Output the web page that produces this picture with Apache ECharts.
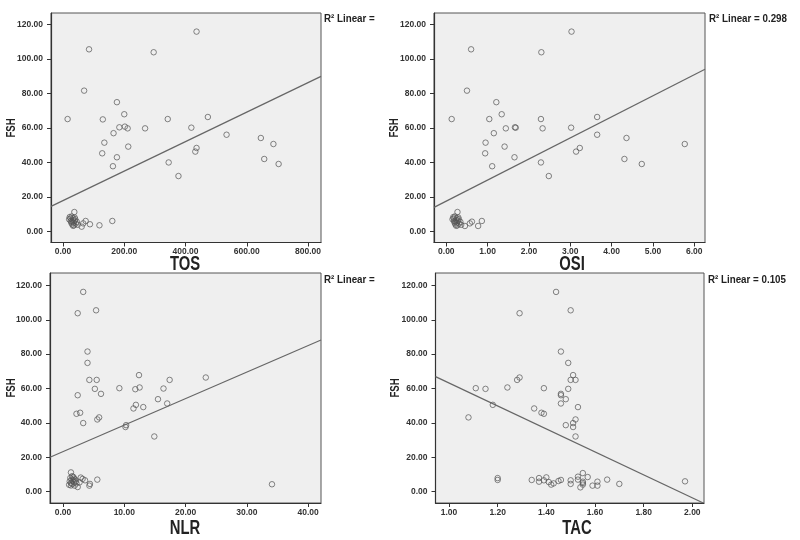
<!DOCTYPE html>
<html>
<head>
<meta charset="utf-8">
<script src="https://cdn.jsdelivr.net/npm/echarts@6/dist/echarts.min.js"></script>
<style>html,body{margin:0;padding:0;background:#fff}#c{width:800px;height:540px}</style>
</head>
<body>
<div id="c"></div>
<script>
// ---- data ----
var fshTicks = [0, 20, 40, 60, 80, 100, 120];
var tosTicks = [0, 200, 400, 600, 800];
var osiTicks = [0, 1, 2, 3, 4, 5, 6];
var nlrTicks = [0, 10, 20, 30, 40];
var tacTicks = [1.0, 1.2, 1.4, 1.6, 1.8, 2.0];

var tosX = [15,85,69,296,436,176,130,200,184,202,211,165,135,128,176,213,163,268,342,419,473,436,432,345,377,534,646,657,687,704,
  37,74,66,61,88,119,161,20,22,25,27,28,30,32,33,35,36,38,40,42,45,30,25,38,48,33];
var tosFSH = [65.2,105.7,81.7,104,116,75,65,68,60.4,60.8,59.8,57,51.5,45.3,43,49.2,37.8,59.8,65.2,60.2,66.4,48.4,46.3,40,32.1,56.1,54.2,42,50.7,39.1,
  11.2,6,4.6,2.7,4.1,3.5,6,7,8.3,6,5,8.6,4,6.5,7.6,5,3.5,6.2,7,4.5,5.5,5.5,7.5,8,3.8,3.2];

var osiX = [0.13,0.60,0.50,2.30,3.03,1.21,1.04,1.34,1.66,1.68,1.44,1.15,0.95,0.94,1.65,1.41,1.11,2.33,2.29,3.02,3.65,3.23,3.14,2.29,2.48,3.65,4.36,4.31,5.77,4.73,
  0.27,0.45,0.57,0.62,0.77,0.86,0.15,0.17,0.19,0.20,0.21,0.22,0.24,0.25,0.26,0.27,0.28,0.30,0.31,0.34,0.22,0.18,0.29,0.36,0.24];
var osiFSH = [65.2,105.7,81.7,104,116,75,65.2,68,60.4,60.2,59.8,57,51.5,45.3,43,49.2,37.8,59.8,65.2,60.2,66.4,48.4,46.3,40,32.1,56.1,54.2,42,50.7,39.1,
  11.2,3.1,4.6,5.6,3.1,6.0,7,8.3,6,5,8.6,4,6.5,7.6,5,3.5,6.2,7,4.5,5.5,5.5,7.5,8,3.8,3.2];

var nlrX = [3.3,2.4,5.4,4.0,4.0,4.3,5.5,5.2,6.2,2.4,2.2,2.8,3.3,5.6,5.9,9.2,12.4,11.8,12.5,10.3,10.2,11.5,11.9,13.1,15.5,16.4,17.4,17.0,14.9,23.3,
  1.3,5.6,34.1,4.4,4.3,3.6,3.2,2.7,2.4,1.0,1.1,1.2,1.3,1.4,1.5,1.6,1.7,1.8,1.9,2.0,2.1,1.5,2.2,1.3,1.8,2.9];
var nlrFSH = [116.2,103.8,105.5,81.5,74.9,65,65,59.8,56.9,56.1,45.3,45.9,39.9,42,43.2,60.2,67.8,59.6,60.6,38.7,37.6,48.4,50.5,49.2,53.8,60,65,51.3,32.1,66.4,
  11.2,7,4.3,4.5,3.5,6.6,7.4,5.4,2.7,4,6,8,5,7,4.5,6.5,8.5,5.5,3.5,7,6,9,4.8,3.6,7.6,8.2];

var tacX = [1.44,1.29,1.50,1.46,1.49,1.51,1.50,1.52,1.29,1.28,1.11,1.15,1.24,1.39,1.49,1.46,1.46,1.48,1.46,1.18,1.53,1.35,1.38,1.39,1.08,1.52,1.51,1.48,1.51,1.52,
  1.20,1.20,1.34,1.37,1.37,1.40,1.39,1.41,1.42,1.43,1.45,1.46,1.50,1.50,1.53,1.53,1.55,1.55,1.55,1.55,1.54,1.57,1.59,1.61,1.61,1.65,1.70,1.97];
var tacFSH = [116.2,103.8,105.5,81.5,74.9,67.8,65,65,66.4,65,60.2,59.8,60.6,60.2,59.8,56.9,56.1,53.8,51.3,50.5,49.2,48.4,45.9,45.3,43.2,42,39.9,38.7,37.6,32.1,
  7.9,6.8,6.8,7.9,5.8,8.3,6.6,5.6,4.1,4.8,6.2,6.8,6.6,4.5,8.7,7.0,10.8,5.8,5.0,4.1,2.5,8.5,3.5,5.8,3.5,7.0,4.5,6.0];

// fit lines (end points)
var tosFitX = [-39.2, 842.4], tosFitY = [14.5, 90.0];
var osiFitX = [-0.298, 6.26], osiFitY = [13.9, 94.1];
var nlrFitX = [-2.12, 42.1], nlrFitY = [20.0, 88.2];
var tacFitX = [0.9445, 2.045], tacFitY = [66.9, -6.6];

var r2Labels = ['R\u00B2 Linear =', 'R\u00B2 Linear = 0.298', 'R\u00B2 Linear =', 'R\u00B2 Linear = 0.105'];
var xNames = ['TOS', 'OSI', 'NLR', 'TAC'];
var yName = 'FSH';

// ---- chart ----
var FONT = "'Liberation Sans','Arial',sans-serif";
function pairs(xs, ys) { return xs.map(function (x, i) { return [x, ys[i]]; }); }

var grids = [
  {left: 51, top: 13, width: 270, height: 229.5},
  {left: 434, top: 13, width: 271, height: 229.5},
  {left: 50, top: 273, width: 271, height: 230},
  {left: 435.5, top: 273, width: 268.5, height: 230}
];
var xRanges = [[-39.2, 842.4], [-0.298, 6.26], [-2.12, 42.1], [0.9445, 2.048]];
var yRanges = [[-6.5, 126.8], [-6.5, 126.8], [-6.6, 127.2], [-6.6, 127.2]];
var xTicks = [tosTicks, osiTicks, nlrTicks, tacTicks];
var sets = [[tosX, tosFSH], [osiX, osiFSH], [nlrX, nlrFSH], [tacX, tacFSH]];
var fits = [[tosFitX, tosFitY], [osiFitX, osiFitY], [nlrFitX, nlrFitY], [tacFitX, tacFitY]];

var labelStyle = {fontSize: 8.5, fontWeight: 'bold', color: '#333', fontFamily: FONT};

// text positions (condensed look via horizontal scale)
var xNamePos = [[185, 264], [572, 264], [185, 528], [577, 528]];
var yNamePos = [[11.5, 128], [394.5, 128], [11.5, 388], [395.5, 388]];
var r2Pos = [[324, 19], [709, 19], [324, 280], [708, 280]];

var graphics = [];
xNames.forEach(function (n, i) {
  graphics.push({type: 'text', x: xNamePos[i][0], y: xNamePos[i][1], scaleX: 0.74,
    style: {text: n, fontSize: 20, fontWeight: 'bold', fill: '#222', fontFamily: FONT, align: 'center', verticalAlign: 'middle'}});
  graphics.push({type: 'text', x: yNamePos[i][0], y: yNamePos[i][1], rotation: Math.PI / 2, scaleX: 0.8,
    style: {text: yName, fontSize: 12, fontWeight: 'bold', fill: '#222', fontFamily: FONT, align: 'center', verticalAlign: 'middle'}});
  graphics.push({type: 'text', x: r2Pos[i][0], y: r2Pos[i][1], scaleX: 0.85,
    style: {text: r2Labels[i], fontSize: 11.5, fontWeight: 'bold', fill: '#222', fontFamily: FONT, align: 'left', verticalAlign: 'middle'}});
});

var option = {
  backgroundColor: '#fff',
  animation: false,
  grid: grids.map(function (g) {
    return Object.assign({show: true, backgroundColor: '#efefef', borderColor: '#555', borderWidth: 1, containLabel: false}, g);
  }),
  xAxis: grids.map(function (g, i) {
    return {
      type: 'value', gridIndex: i, min: xRanges[i][0], max: xRanges[i][1],
      axisLine: {show: true, onZero: false, lineStyle: {color: '#333', width: 1.2}},
      axisTick: {show: true, length: 4, customValues: xTicks[i], lineStyle: {color: '#333'}},
      axisLabel: Object.assign({customValues: xTicks[i], margin: 5, formatter: function (v) { return v.toFixed(2); }}, labelStyle),
      splitLine: {show: false}
    };
  }),
  yAxis: grids.map(function (g, i) {
    return {
      type: 'value', gridIndex: i, min: yRanges[i][0], max: yRanges[i][1],
      axisLine: {show: true, onZero: false, lineStyle: {color: '#333', width: 1.2}},
      axisTick: {show: true, length: 4, customValues: fshTicks, lineStyle: {color: '#333'}},
      axisLabel: Object.assign({customValues: fshTicks, margin: 8, formatter: function (v) { return v.toFixed(2); }}, labelStyle),
      splitLine: {show: false}
    };
  }),
  series: [].concat(
    sets.map(function (s, i) {
      return {
        type: 'scatter', name: xNames[i], xAxisIndex: i, yAxisIndex: i, data: pairs(s[0], s[1]),
        symbol: 'circle', symbolSize: 5.5,
        itemStyle: {color: 'rgba(0,0,0,0)', borderColor: '#555', borderWidth: 0.9}
      };
    }),
    fits.map(function (f, i) {
      return {
        type: 'line', name: xNames[i] + ' fit', xAxisIndex: i, yAxisIndex: i, data: pairs(f[0], f[1]),
        symbol: 'none', clip: true, lineStyle: {color: '#666', width: 1.2}
      };
    })
  ),
  graphic: graphics
};
var chart = echarts.init(document.getElementById('c'), null, {renderer: 'canvas'});
chart.setOption(option);
</script>
</body>
</html>
